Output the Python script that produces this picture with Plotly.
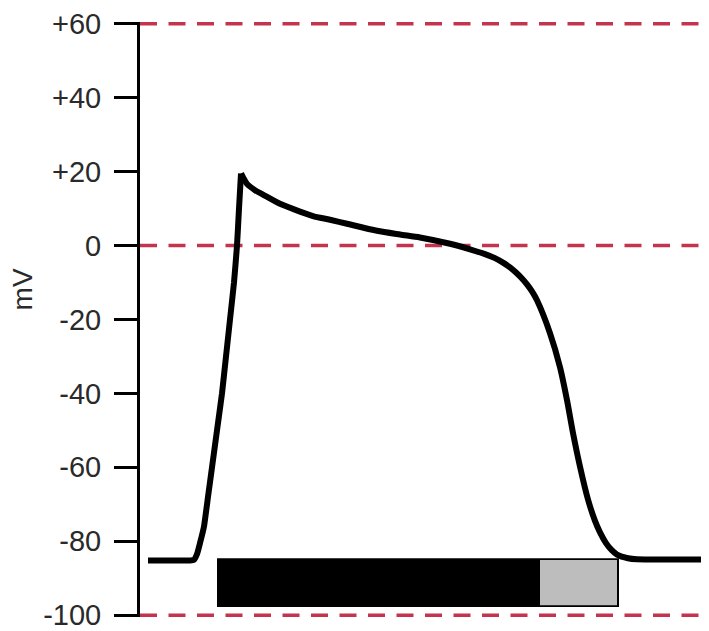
import plotly.graph_objects as go

# ---- data ----
time_ms = [8, 50, 54, 57, 60, 64, 68, 72, 77, 82, 86, 90, 94, 97, 99, 101,
           103, 107, 115, 123, 140, 160, 173, 190, 207, 237, 260, 280, 310,
           330, 345, 355, 363, 370, 376, 382, 387, 392, 397, 410, 420, 427, 433, 440, 448, 455, 460,
           466, 472, 477, 488, 497, 569]
membrane_mv = [-85.2, -85.2, -85, -83.5, -80.5, -76, -68, -60, -50, -40, -30, -20, -10, 0, 10, 19.5,
               18.5, 16.7, 15.0, 13.8, 11.3, 9.2, 8.0, 7.0, 5.9, 4.0, 3.0, 2.2, 0.5,
               -1.0, -2.3, -3.4, -4.6, -5.9, -7.3, -8.9, -10.5, -12.4, -14.8, -23.7, -32.9, -41.8, -50.7, -59.8, -68.7, -74.5, -77.6,
               -80.5, -82.5, -83.6, -84.6, -84.9, -84.9]

tick_values = [60, 40, 20, 0, -20, -40, -60, -80, -100]
tick_labels = ["+60", "+40", "+20", "0", "-20", "-40", "-60", "-80", "-100"]
reference_levels = [60, 0, -100]

# refractory period bars (time range, mV range)
absolute_refractory = [77, 399]
relative_refractory = [399, 479]
bar_mv = [-97.8, -84.6]

peak = membrane_mv.index(max(membrane_mv))

fig = go.Figure()
# upstroke and repolarisation drawn as two smooth pieces that meet at the sharp peak
fig.add_trace(go.Scatter(x=time_ms[:peak + 1], y=membrane_mv[:peak + 1], mode="lines",
                         line=dict(color="black", width=6, shape="spline", smoothing=0.4),
                         showlegend=False, hoverinfo="skip"))
fig.add_trace(go.Scatter(x=time_ms[peak:], y=membrane_mv[peak:], mode="lines",
                         line=dict(color="black", width=6, shape="spline", smoothing=0.7),
                         showlegend=False, hoverinfo="skip"))

shapes = []
for lvl in reference_levels:
    shapes.append(dict(type="line", xref="x", yref="y", x0=0, x1=569, y0=lvl, y1=lvl,
                       line=dict(color="#c4344f", width=3.5, dash="17px,11.5px"), layer="below"))
# black outer bar covering both periods
shapes.append(dict(type="rect", xref="x", yref="y",
                   x0=absolute_refractory[0], x1=relative_refractory[1],
                   y0=bar_mv[0], y1=bar_mv[1], fillcolor="black", line=dict(width=0)))
# grey relative refractory portion, inset by the border
shapes.append(dict(type="rect", xref="x", yref="y",
                   x0=relative_refractory[0] + 1, x1=relative_refractory[1] - 2,
                   y0=bar_mv[0] + 0.5, y1=bar_mv[1] - 0.5, fillcolor="#bdbdbd", line=dict(width=0)))

fig.update_layout(
    width=701, height=623,
    margin=dict(l=132, r=0, t=12, b=13),
    paper_bgcolor="white", plot_bgcolor="white",
    shapes=shapes,
    font=dict(family="Liberation Sans, Arial, sans-serif", color="#2a2a2a"),
    xaxis=dict(range=[0, 569], visible=False, fixedrange=True),
    yaxis=dict(range=[-100.5, 60.5], tickmode="array", tickvals=tick_values, ticktext=tick_labels,
               showgrid=False, zeroline=False, showline=True, linecolor="black", linewidth=3,
               ticks="outside", ticklen=23, tickwidth=3, tickcolor="black",
               ticklabelstandoff=7, ticklabeloverflow="allow",
               tickfont=dict(size=29, color="#2a2a2a")),
    annotations=[dict(text="mV", xref="paper", yref="paper", x=-132/569, xanchor="left",
                      y=(-12 + 100.5) / 161, yanchor="middle", textangle=-90, showarrow=False,
                      xshift=-3, font=dict(size=28, color="#2a2a2a"))],
)

fig.write_html("out.html")
